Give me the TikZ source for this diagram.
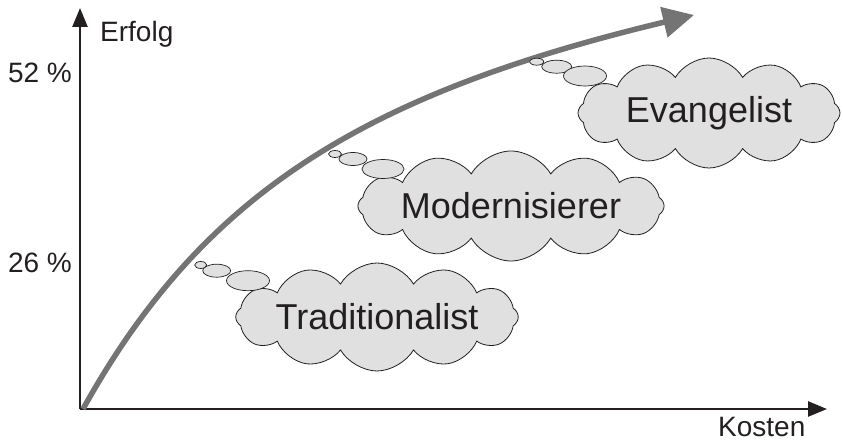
\documentclass[tikz,border=0pt]{standalone}
\usepackage{fontspec}
\setmainfont{Liberation Sans}
\usetikzlibrary{shapes.symbols,shapes.geometric,arrows.meta}
\definecolor{ink}{HTML}{231F20}
\definecolor{curvegray}{HTML}{747474}
\definecolor{cloudfill}{HTML}{E0E0E0}
\begin{document}
\begin{tikzpicture}[x=1pt,y=-1pt,
  axis/.style={line width=2.5pt, draw=ink, -{Triangle[length=19pt,width=15pt]}},
  thought/.style={cloud, cloud puffs=12, cloud puff arc=120, cloud ignores aspect,
    draw=ink, line width=0.8pt, fill=cloudfill, text=ink,
    font=\fontsize{36}{40}\selectfont, inner sep=0pt},
  bubble/.style={ellipse, draw=ink, line width=0.7pt, fill=cloudfill, inner sep=0pt},
  lbl/.style={font=\fontsize{28}{32}\selectfont, text=ink, inner sep=0pt},
  growth/.style={line width=5.5pt, draw=curvegray, -{Triangle[length=31pt,width=30pt]}}]
\useasboundingbox (0,0) rectangle (843,441);
% axes
\coordinate (O) at (80,409);
\coordinate (ytop) at (80,8);
\coordinate (xend) at (827,409);
\draw[axis] (O) -- (ytop);
\draw[axis] (O) -- (xend);
% growth curve
\coordinate (gstart) at (83,409);
\coordinate (gend) at (694,15);
\draw[growth] (gstart) .. controls (203,193) and (364,94) .. (gend);
% clouds
\node[thought, minimum width=270pt, minimum height=108pt] (trad) at (377,317) {Traditionalist};
\node[thought, minimum width=270pt, minimum height=110pt] (mod) at (511,206) {Modernisierer};
\node[thought, minimum width=262pt, minimum height=110pt] (evan) at (709,113) {Evangelist};
% thought bubbles
\node[bubble, minimum width=12pt, minimum height=7pt] (t1) at (200.7,265) {};
\node[bubble, minimum width=28pt, minimum height=13pt] (t2) at (216.7,270.7) {};
\node[bubble, minimum width=43pt, minimum height=20pt] (t3) at (248,280.7) {};
\node[bubble, minimum width=13pt, minimum height=7pt] (m1) at (335,154) {};
\node[bubble, minimum width=28pt, minimum height=13pt] (m2) at (353,159) {};
\node[bubble, minimum width=42pt, minimum height=19pt] (m3) at (383,169) {};
\node[bubble, minimum width=14pt, minimum height=7pt] (e1) at (536.7,61.7) {};
\node[bubble, minimum width=30pt, minimum height=13pt] (e2) at (556.7,66.7) {};
\node[bubble, minimum width=43pt, minimum height=20pt] (e3) at (585,76) {};
% labels
\node[lbl, anchor=base west] (erfolg) at (100,42) {Erfolg};
\node[lbl] (p52) at (40,73) {52 \%};
\node[lbl] (p26) at (40,263) {26 \%};
\node[lbl, anchor=base west] (kosten) at (718,436) {Kosten};
\end{tikzpicture}
\end{document}
